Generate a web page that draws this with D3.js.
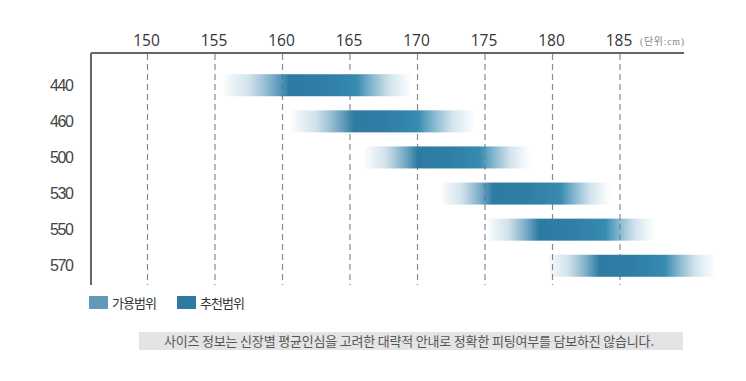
<!DOCTYPE html>
<html><head><meta charset="utf-8">
<script src="https://cdn.jsdelivr.net/npm/d3@7"></script>
<style>
html,body{margin:0;padding:0;background:#fff;}
svg{display:block;}
</style></head>
<body>
<svg id="chart" width="746" height="381"></svg>
<script>
const sizes = ["440","460","500","530","550","570"];
const availMin = [155.5,160.5,166.0,171.7,175.1,179.6];
const availMax = [169.6,174.3,178.4,184.3,187.6,192.1];
const recMin   = [160.5,165.3,170.0,175.6,179.0,183.5];
const recMax   = [165.5,170.0,174.6,180.6,183.9,188.3];
const ticks = [150,155,160,165,170,175,180,185];
const legendLabels = ["가용범위","추천범위"];
const unitLabel = "(단위:cm)";
const note = "사이즈 정보는 신장별 평균인심을 고려한 대략적 안내로 정확한 피팅여부를 담보하진 않습니다.";

const darkColor = "#2d7ba3";
const legendColors = ["#6399b8", "#2d7aa3"];

const svg = d3.select("#chart");
const x = d3.scaleLinear().domain([150,185]).range([147.5, 620]);
const y = d3.scaleBand().domain(sizes).range([67, 284]).paddingInner(0.39).paddingOuter(0.2);

const plotTop = 53, plotBottom = 285, plotLeft = 91, plotRight = 684;

// gridlines (dashed)
svg.append("g").selectAll("line").data(ticks).join("line")
  .attr("x1", d => x(d)).attr("x2", d => x(d))
  .attr("y1", plotTop + 1).attr("y2", plotBottom)
  .attr("stroke", "#8a8a8a").attr("stroke-width", 1.2)
  .attr("stroke-dasharray", "6,4");

// gradients
const defs = svg.append("defs");
sizes.forEach((s, i) => {
  const a0 = availMin[i], a1 = availMax[i];
  const pos = v => ((v - a0) / (a1 - a0) * 100) + "%";
  const g = defs.append("linearGradient").attr("id", "g" + i)
    .attr("x1", "0%").attr("x2", "100%").attr("y1", "0%").attr("y2", "0%");
  const lm = a0 + (recMin[i] - a0) * 0.4;
  const lm2 = a0 + (recMin[i] - a0) * 0.7;
  const rm2 = a1 - (a1 - recMax[i]) * 0.7;
  const rm = a1 - (a1 - recMax[i]) * 0.4;
  const stops = [
    [a0, "#2d7ba3", 0],
    [lm, "#4d8fb3", 0.25],
    [lm2, "#3f87ae", 0.62],
    [recMin[i], darkColor, 1],
    [(recMin[i]+recMax[i])/2, "#2f7ea6", 1],
    [recMax[i], "#378ab0", 1],
    [rm2, "#4390b5", 0.62],
    [rm, "#4d95b8", 0.25],
    [a1, "#5a9cbc", 0]
  ];
  stops.forEach(st => g.append("stop").attr("offset", pos(st[0]))
    .attr("stop-color", st[1]).attr("stop-opacity", st[2]));
});

// bars
svg.append("g").selectAll("rect").data(sizes).join("rect")
  .attr("x", (d,i) => x(availMin[i]))
  .attr("width", (d,i) => x(availMax[i]) - x(availMin[i]))
  .attr("y", d => y(d))
  .attr("height", y.bandwidth())
  .attr("fill", (d,i) => "url(#g" + i + ")");

// axis lines
svg.append("line").attr("x1", plotLeft).attr("x2", plotRight).attr("y1", plotTop).attr("y2", plotTop)
  .attr("stroke", "#666").attr("stroke-width", 2);
svg.append("line").attr("x1", plotLeft).attr("x2", plotLeft).attr("y1", plotTop).attr("y2", plotBottom)
  .attr("stroke", "#666").attr("stroke-width", 2);

// top tick labels
const xAxis = d3.axisTop(x).tickValues(ticks).tickSize(0).tickPadding(0);
const gx = svg.append("g").attr("transform", "translate(-1.5,46)").call(xAxis);
gx.select(".domain").remove();
gx.selectAll("text").attr("font-family", "'Open Sans', 'Noto Sans', sans-serif")
  .attr("font-size", 15.5).attr("fill", "#333").attr("dy", 0);

svg.append("text").attr("x", 640).attr("y", 45)
  .attr("font-family", "'Liberation Serif', 'Noto Sans CJK KR', serif")
  .attr("font-size", 10).attr("fill", "#888").attr("textLength", 44).text(unitLabel);

// y labels
const yAxis = d3.axisLeft(y).tickSize(0).tickPadding(0);
const gy = svg.append("g").attr("transform", "translate(74,0)").call(yAxis);
gy.select(".domain").remove();
gy.selectAll("text").attr("font-family", "'Liberation Sans', Arial, sans-serif")
  .attr("font-size", 16).attr("fill", "#444").attr("textLength", 24).attr("dy", "0.35em");

// legend
const lg = svg.append("g");
const lx = [89, 177];
legendLabels.forEach((t, i) => {
  lg.append("rect").attr("x", lx[i]).attr("y", 296).attr("width", 19).attr("height", 13)
    .attr("fill", legendColors[i]);
  lg.append("text").attr("x", lx[i] + 23).attr("y", 307.5)
    .attr("font-family", "'Noto Sans CJK KR', sans-serif")
    .attr("font-size", 13).attr("fill", "#333").attr("textLength", 45).text(t);
});

// note box
svg.append("rect").attr("x", 139).attr("y", 332).attr("width", 544).attr("height", 18)
  .attr("fill", "#e4e4e4");
svg.append("text").attr("x", 164).attr("y", 346)
  .attr("font-family", "'Noto Sans CJK KR', sans-serif")
  .attr("font-size", 13).attr("fill", "#555").attr("textLength", 490).text(note);
</script>
</body></html>
